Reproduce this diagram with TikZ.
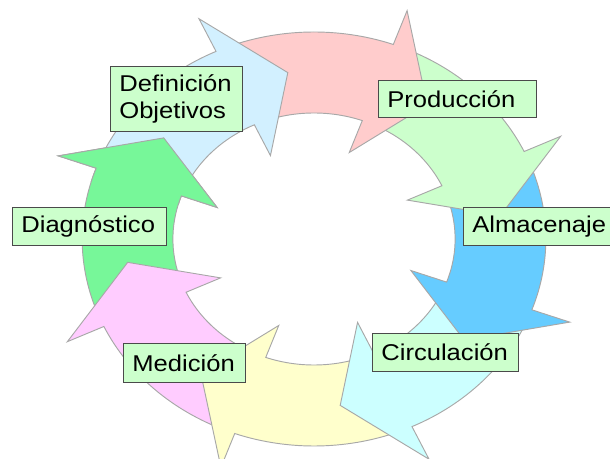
\documentclass[tikz,border=0pt]{standalone}
\usepackage{fontspec}
\setmainfont{Liberation Sans}

\definecolor{ringline}{HTML}{A8A8A8}
\definecolor{boxline}{HTML}{4A4A4A}
\definecolor{boxfill}{HTML}{CCFFCC}
\definecolor{defcol}{HTML}{D2F0FF}
\definecolor{prodcol}{HTML}{FFCCCC}
\definecolor{storecol}{HTML}{CCFFCC}
\definecolor{almcol}{HTML}{66CCFF}
\definecolor{circcol}{HTML}{CCFFFF}
\definecolor{yelcol}{HTML}{FFFFCC}
\definecolor{medcol}{HTML}{FFCCFF}
\definecolor{diagcol}{HTML}{77F799}

\tikzstyle{ringarrow}=[draw=ringline,line width=0.8pt]
\tikzstyle{stagebox}=[rectangle,draw=boxline,fill=boxfill,line width=0.6pt,transform shape,anchor=north west,inner xsep=0.24cm,inner ysep=0pt,align=left]

% one curved arrow of the ring: #1 colour, #2 angle of the head base
\newcommand\CycArrow[2]{
  \path[ringarrow,fill=#1] (#2+43:207) arc[start angle=#2+43,end angle=#2,radius=207]
    -- (#2:243) -- (#2-17:168) -- (#2:92) -- (#2:126)
    arc[start angle=#2,end angle=#2+43,radius=126] -- cycle;
}

\begin{document}
\begin{tikzpicture}[xscale=1.12,x=0.03cm,y=0.03cm,font=\fontsize{19.5}{23.5}\selectfont]
  \useasboundingbox (0,0) rectangle (544.64,458);

  \begin{scope}[shift={(280.36,219)}]
    \CycArrow{diagcol}{160}
    \CycArrow{medcol}{-155}
    \CycArrow{yelcol}{-110}
    \CycArrow{circcol}{-65}
    \CycArrow{almcol}{-20}
    \CycArrow{storecol}{25}
    \CycArrow{prodcol}{70}
    \CycArrow{defcol}{115}
    % head of the first arrow again, over the tail of the last one
    \begin{scope}
      \clip (0,0) -- (164:300) -- (136:300) -- cycle;
      \CycArrow{diagcol}{160}
    \end{scope}
  \end{scope}

  \node[stagebox,text width=3.056cm,minimum height=1.95cm] (def) at (98.21,392) {Definición\\Objetivos};
  \node[stagebox,text width=3.752cm,minimum height=1.11cm] (prod) at (337.5,378) {Producción};
  \node[stagebox,text width=3.65cm,minimum height=1.14cm] (alm) at (413.39,251) {Almacenaje};
  \node[stagebox,text width=3.645cm,minimum height=1.14cm] (diag) at (10.71,251) {Diagnóstico};
  \node[stagebox,text width=3.431cm,minimum height=1.14cm] (circ) at (332.14,125) {Circulación};
  \node[stagebox,text width=2.788cm,minimum height=1.17cm] (med) at (109.82,115) {Medición};
\end{tikzpicture}
\end{document}
